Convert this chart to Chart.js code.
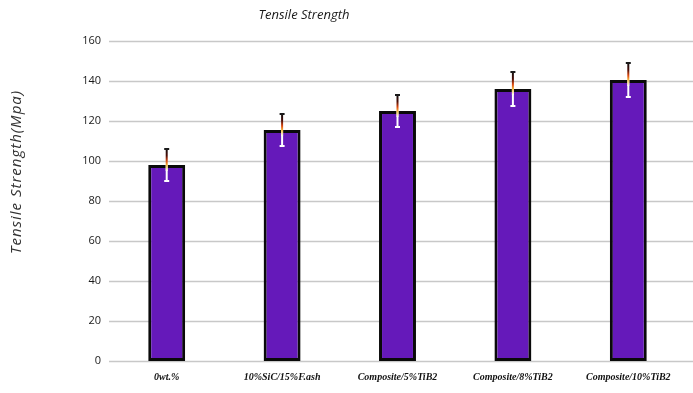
<!DOCTYPE html>
<html>
<head>
<meta charset="utf-8">
<script src="https://cdn.jsdelivr.net/npm/chart.js@4/dist/chart.umd.min.js"></script>
<style>
  html, body { margin: 0; padding: 0; background: #fff; }
  #wrap { width: 693px; height: 393px; }
</style>
</head>
<body>
<div id="wrap"><canvas id="c"></canvas></div>
<script>
// Tensile strength of the base alloy and composites (MPa)
const categories = ['0wt.%', '10%SiC/15%F.ash', 'Composite/5%TiB2', 'Composite/8%TiB2', 'Composite/10%TiB2'];
const strength = [98, 115.5, 125, 136, 140.5];
const strengthErr = [8, 8, 8, 8.5, 8.5];
const yTicks = [0, 20, 40, 60, 80, 100, 120, 140, 160];

const chartTitle = 'Tensile Strength';
const yTitle = 'Tensile Strength(Mpa)';

// Horizontal grid lines running from the plot's left edge to the canvas edge
const gridPlugin = {
  id: 'gridLines',
  beforeDatasetsDraw(chart) {
    const { ctx, chartArea, scales } = chart;
    ctx.save();
    ctx.strokeStyle = '#c8c8c8';
    ctx.lineWidth = 1.6;
    yTicks.forEach(v => {
      const y = Math.round(scales.y.getPixelForValue(v)) + 0.5;
      ctx.beginPath();
      ctx.moveTo(chartArea.left, y);
      ctx.lineTo(chart.width, y);
      ctx.stroke();
    });
    ctx.restore();
  }
};

// Error bars: white lower half, warm-to-black upper half, with caps
const errorPlugin = {
  id: 'errorBars',
  afterDatasetsDraw(chart) {
    const { ctx, scales } = chart;
    const meta = chart.getDatasetMeta(0);
    ctx.save();
    meta.data.forEach((bar, i) => {
      const x = bar.x;
      const yv = scales.y.getPixelForValue(strength[i]);
      const yHi = scales.y.getPixelForValue(strength[i] + strengthErr[i]);
      const yLo = scales.y.getPixelForValue(strength[i] - strengthErr[i]);
      // lower half
      ctx.strokeStyle = '#ffffff';
      ctx.lineWidth = 2;
      ctx.beginPath();
      ctx.moveTo(x, yLo);
      ctx.lineTo(x, yv);
      ctx.stroke();
      ctx.lineWidth = 2;
      ctx.beginPath();
      ctx.moveTo(x - 2.5, yLo);
      ctx.lineTo(x + 2.5, yLo);
      ctx.stroke();
      // upper half
      const g = ctx.createLinearGradient(0, yv + 6, 0, yHi);
      g.addColorStop(0, '#ffffff');
      g.addColorStop(0.25, '#f5c040');
      g.addColorStop(0.45, '#e04a10');
      g.addColorStop(0.7, '#4a0c06');
      g.addColorStop(1, '#111111');
      ctx.strokeStyle = g;
      ctx.lineWidth = 2;
      ctx.beginPath();
      ctx.moveTo(x, yv + 6);
      ctx.lineTo(x, yHi);
      ctx.stroke();
      ctx.strokeStyle = '#1a1a1a';
      ctx.beginPath();
      ctx.moveTo(x - 2.5, yHi);
      ctx.lineTo(x + 2.5, yHi);
      ctx.stroke();
    });
    ctx.restore();
  }
};

// Chart title and rotated y-axis title
const textPlugin = {
  id: 'titles',
  afterDraw(chart) {
    const { ctx } = chart;
    ctx.save();
    ctx.fillStyle = '#1a1a1a';
    ctx.font = 'italic 13px "Liberation Sans Narrow", "Open Sans", sans-serif';
    ctx.textAlign = 'center';
    ctx.textBaseline = 'middle';
    ctx.fillText(chartTitle, 304, 15);

    ctx.translate(17, 172);
    ctx.rotate(-Math.PI / 2);
    ctx.fillStyle = '#333';
    ctx.font = 'italic 15px "Open Sans", sans-serif';
    ctx.letterSpacing = '1px';
    ctx.fillText(yTitle, 0, 0);
    ctx.restore();
  }
};

new Chart(document.getElementById('c'), {
  type: 'bar',
  data: {
    labels: categories,
    datasets: [{
      data: strength,
      backgroundColor: '#6519BA',
      borderColor: '#0a0a0a',
      borderWidth: 3,
      borderSkipped: false,
      barPercentage: 0.32,
      categoryPercentage: 1.0
    }]
  },
  options: {
    responsive: true,
    maintainAspectRatio: false,
    animation: false,
    layout: { padding: { top: 41, right: 7, left: 0, bottom: 0 } },
    plugins: {
      legend: { display: false },
      title: { display: false },
      tooltip: { enabled: false }
    },
    scales: {
      x: {
        grid: { display: false, drawTicks: false },
        border: { display: false },
        ticks: {
          color: '#111',
          padding: 10,
          maxRotation: 0,
          autoSkip: false,
          font: { family: '"Liberation Serif", serif', size: 10, style: 'italic', weight: 'bold' }
        },
        afterFit(s) { s.height = 32; }
      },
      y: {
        min: 0,
        max: 160,
        grid: { display: false, drawTicks: false },
        border: { display: false },
        afterBuildTicks(s) { s.ticks = yTicks.map(v => ({ value: v })); },
        ticks: {
          color: '#1a1a1a',
          padding: 8,
          font: { family: '"Liberation Sans Narrow", "Open Sans", sans-serif', size: 11 }
        },
        afterFit(s) { s.width = 109; }
      }
    }
  },
  plugins: [gridPlugin, errorPlugin, textPlugin]
});
</script>
</body>
</html>
